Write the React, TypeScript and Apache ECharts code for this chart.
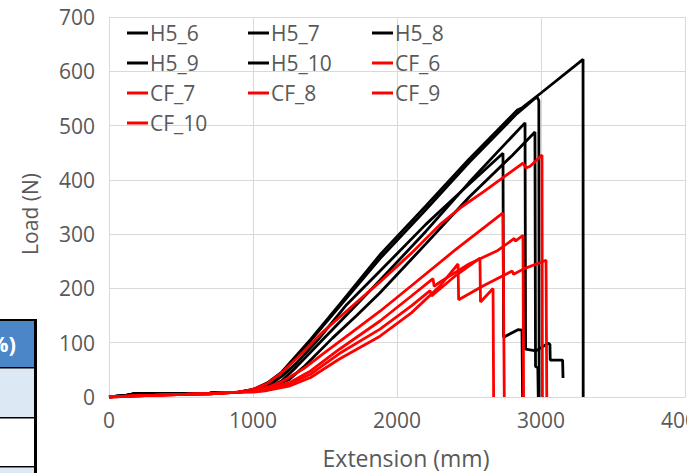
import React, { useEffect, useRef } from "react";
import * as echarts from "echarts";

const FONT = "'Open Sans', sans-serif";
const GREY = "#595959";
const GRID = "#d9d9d9";

const xTicks = [0, 1000, 2000, 3000, 4000];
const yTicks = [0, 100, 200, 300, 400, 500, 600, 700];

const seriesNames = ["H5_6", "H5_7", "H5_8", "H5_9", "H5_10", "CF_6", "CF_7", "CF_8", "CF_9", "CF_10"];
const seriesColors = ["#000000", "#000000", "#000000", "#000000", "#000000", "#ff0000", "#ff0000", "#ff0000", "#ff0000", "#ff0000"];

// [extension (mm), load (N)]
const h5_6 = [[0,0],[120,3],[180,6],[400,6],[700,7],[900,9],[1000,14],[1100,26],[1200,46],[1400,106],[1600,170],[1882,262],[2200,352],[2500,438],[2833,528],[2870,533],[3000,560],[3292,622],[3293,0]];
const h5_7 = [[0,0],[120,3],[180,6],[400,6],[700,7],[900,9],[1000,12],[1100,17],[1200,30],[1300,55],[1500,110],[1700,165],[1882,215],[2200,305],[2500,395],[2700,452],[2889,505],[2893,88],[2965,85],[3050,99],[3062,97],[3064,68],[3150,68],[3153,35]];
const h5_8 = [[0,0],[120,3],[180,6],[400,6],[700,7],[900,9],[1000,13],[1100,20],[1200,38],[1300,62],[1450,105],[1650,170],[1882,232],[2200,318],[2500,392],[2736,449],[2740,110],[2840,124],[2868,123],[2872,0]];
const h5_9 = [[0,0],[120,3],[180,6],[400,6],[700,7],[900,9],[1000,13],[1100,24],[1200,45],[1300,72],[1500,135],[1700,198],[1882,255],[2200,345],[2500,432],[2833,522],[2870,530],[2972,553],[2985,546],[2987,0]];
const h5_10 = [[0,0],[120,3],[180,6],[400,6],[700,7],[900,9],[1000,12],[1100,16],[1250,32],[1350,55],[1550,108],[1720,150],[1882,192],[2200,282],[2500,368],[2800,445],[2958,488],[2962,56],[2978,54],[2981,0]];
const cf_6 = [[0,0],[200,2],[400,4],[700,6],[900,9],[1000,14],[1100,25],[1200,45],[1300,70],[1486,120],[1700,170],[1882,212],[2100,265],[2300,318],[2438,348],[2480,356],[2600,378],[2875,431],[2895,422],[2925,425],[3007,446],[3010,0]];
const cf_7 = [[0,0],[200,2],[400,4],[700,6],[900,9],[1000,12],[1100,18],[1200,28],[1350,52],[1500,82],[1700,122],[1882,158],[2100,205],[2400,270],[2736,339],[2745,0]];
const cf_8 = [[0,0],[200,2],[400,4],[700,6],[900,9],[1000,11],[1100,15],[1250,26],[1400,48],[1600,88],[1882,140],[2100,186],[2250,218],[2258,204],[2300,212],[2500,245],[2700,270],[2815,292],[2822,287],[2875,298],[2879,0]];
const cf_9 = [[0,0],[200,2],[400,4],[700,6],[900,9],[1000,10],[1100,14],[1250,24],[1400,42],[1600,80],[1882,125],[2100,168],[2230,196],[2240,186],[2400,222],[2576,256],[2580,175],[2667,200],[2671,0]];
const cf_10 = [[0,0],[200,2],[400,4],[700,6],[900,9],[1000,9],[1100,12],[1250,20],[1400,36],[1600,70],[1882,112],[2100,155],[2300,205],[2424,245],[2428,179],[2600,205],[2800,232],[2810,226],[2880,236],[3035,252],[3040,0]];

const seriesData = [h5_6, h5_7, h5_8, h5_9, h5_10, cf_6, cf_7, cf_8, cf_9, cf_10];

const legendColumns = [
  ["H5_6", "H5_9", "CF_7", "CF_10"],
  ["H5_7", "H5_10", "CF_8"],
  ["H5_8", "CF_6", "CF_9"],
];
const legendLefts = [127, 248, 372];

export default function App() {
  const ref = useRef<HTMLDivElement>(null);
  useEffect(() => {
    const chart = echarts.init(ref.current as HTMLDivElement, null, { renderer: "svg" });
    const option: any = {
      animation: false,
      backgroundColor: "#ffffff",
      grid: { left: 109, right: 2, top: 17, bottom: 76, containLabel: false, outerBoundsMode: "none" },
      xAxis: {
        type: "value",
        min: xTicks[0],
        max: xTicks[xTicks.length - 1],
        interval: 1000,
        axisLabel: { color: GREY, fontSize: 21, fontFamily: FONT, margin: 12, formatter: (v: number) => String(v) },
        axisLine: { show: true, lineStyle: { color: GRID, width: 1 } },
        axisTick: { show: false },
        splitLine: { show: true, lineStyle: { color: GRID, width: 1 } },
        name: "Extension (mm)",
        nameLocation: "middle",
        nameGap: 49,
        nameTextStyle: { color: GREY, fontSize: 23, fontFamily: FONT, padding: [0, 0, 0, 18] },
      },
      yAxis: {
        type: "value",
        min: yTicks[0],
        max: yTicks[yTicks.length - 1],
        interval: 100,
        axisLabel: { color: GREY, fontSize: 21, fontFamily: FONT, margin: 14, formatter: (v: number) => String(v) },
        axisLine: { show: false },
        axisTick: { show: false },
        splitLine: { show: true, lineStyle: { color: GRID, width: 1 } },
        name: "Load (N)",
        nameLocation: "middle",
        nameGap: 69,
        nameTextStyle: { color: GREY, fontSize: 21, fontFamily: FONT, padding: [0, 14, 0, 0] },
      },
      legend: legendColumns.map((col, i) => ({
        data: col,
        orient: "vertical",
        left: legendLefts[i],
        top: 22,
        padding: 0,
        itemGap: 8,
        itemWidth: 21,
        itemHeight: 3,
        icon: "rect",
        textStyle: { color: GREY, fontSize: 21, fontFamily: FONT, lineHeight: 22, padding: [0, 0, 0, -3] },
      })),
      series: seriesNames.map((name, i) => ({
        name,
        type: "line",
        data: seriesData[i],
        showSymbol: false,
        symbol: "none",
        color: seriesColors[i],
        lineStyle: { color: seriesColors[i], width: 2.8 },
        itemStyle: { color: seriesColors[i] },
        z: i < 5 ? 2 : 3,
      })),
      graphic: [
        { type: "rect", shape: { x: 0, y: 320, width: 35, height: 47 }, style: { fill: "#4a86c8" }, silent: true },
        { type: "rect", shape: { x: 0, y: 368, width: 35, height: 50 }, style: { fill: "#dde8f5" }, silent: true },
        { type: "rect", shape: { x: 0, y: 418, width: 35, height: 49 }, style: { fill: "#ffffff" }, silent: true },
        { type: "rect", shape: { x: 0, y: 468, width: 35, height: 5 }, style: { fill: "#dde8f5" }, silent: true },
        { type: "rect", shape: { x: 0, y: 319, width: 37, height: 2 }, style: { fill: "#000000" }, silent: true },
        { type: "rect", shape: { x: 0, y: 367, width: 37, height: 1.5 }, style: { fill: "#000000" }, silent: true },
        { type: "rect", shape: { x: 0, y: 417, width: 37, height: 1.5 }, style: { fill: "#000000" }, silent: true },
        { type: "rect", shape: { x: 0, y: 466, width: 37, height: 1.5 }, style: { fill: "#000000" }, silent: true },
        { type: "rect", shape: { x: 34, y: 319, width: 3, height: 154 }, style: { fill: "#000000" }, silent: true },
        { type: "text", x: 16, y: 343, style: { text: "%)", fill: "#ffffff", font: "bold 22px 'Open Sans', sans-serif", align: "right", verticalAlign: "middle" }, silent: true },
      ],
    };
    chart.setOption(option);
    return () => chart.dispose();
  }, []);
  return <div ref={ref} style={{ position: "absolute", left: 0, top: 0, width: 687, height: 473, background: "#ffffff" }} />;
}
